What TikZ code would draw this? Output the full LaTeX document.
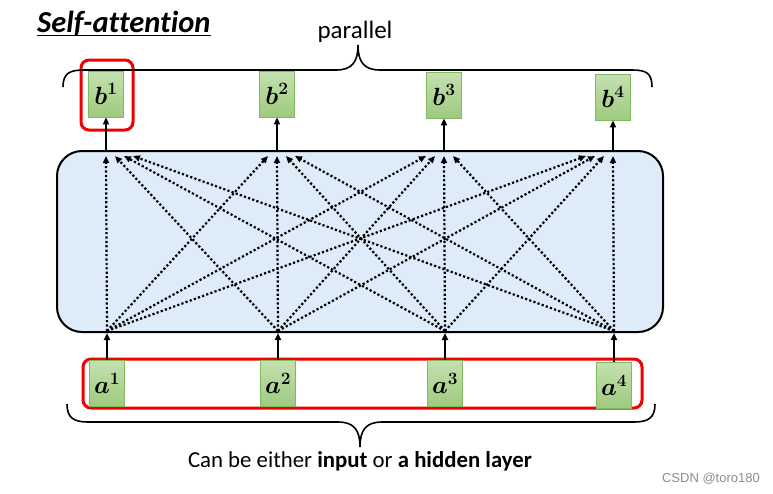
\documentclass[tikz,border=0pt]{standalone}
\usepackage{amsmath,amssymb}
\usepackage{fontspec}
\setmainfont{Carlito}[Ligatures=NoCommon]
\newfontfamily\wmfont{Liberation Sans}
\usepackage{tikz}
\usetikzlibrary{arrows.meta,calc}
\definecolor{vectop}{RGB}{196,224,176}
\definecolor{vecbot}{RGB}{158,202,126}
\definecolor{vecline}{RGB}{128,186,96}
\definecolor{attnfill}{RGB}{222,235,248}
\definecolor{hired}{RGB}{240,0,0}
\definecolor{wmgray}{RGB}{140,140,140}

\begin{document}
\begin{tikzpicture}[x=1pt, y=-1pt,
	vecbox/.style={draw=vecline, line width=0.8pt, top color=vectop, bottom color=vecbot, minimum width=35pt, minimum height=46pt, inner sep=0, font=\fontsize{24}{26}\selectfont},
	attnbox/.style={draw, line width=2pt, fill=attnfill, rounded corners=25pt, minimum width=606pt, minimum height=181pt},
	hilite/.style={draw=hired, line width=3pt, rounded corners=8pt},
	solidarr/.style={line width=2pt, -{Triangle[length=7pt,width=6pt]}},
	dotarr/.style={line width=2.2pt, dash pattern=on 2.2pt off 2.2pt, -{Triangle[length=7pt,width=6pt]}},
	brace/.style={line width=1.6pt}
]
\useasboundingbox (0,0) rectangle (773,493);

%title
\node[anchor=base west, inner sep=0, font=\fontsize{30.5}{33}\selectfont\bfseries\itshape] (title) at (37,32) {Self-attention};
\draw[line width=1.6pt] ([yshift=-3.5pt]title.base west) -- ([yshift=-3.5pt]title.base east);

\node[attnbox] (attn) at (360,241.5) {};

\node[hilite, minimum width=52pt, minimum height=70pt] (sel) at (107,95) {};
\node[hilite, minimum width=559pt, minimum height=49pt] (inrow) at (362.5,383.5) {};

\node[vecbox] (b1) at (106,94) {$\boldsymbol{b}^{\boldsymbol{1}}$};
\node[vecbox] (b2) at (277,94) {$\boldsymbol{b}^{\boldsymbol{2}}$};
\node[vecbox] (b3) at (444,95) {$\boldsymbol{b}^{\boldsymbol{3}}$};
\node[vecbox] (b4) at (613,97) {$\boldsymbol{b}^{\boldsymbol{4}}$};

\node[vecbox] (a1) at (107,383.5) {$\boldsymbol{a}^{\boldsymbol{1}}$};
\node[vecbox] (a2) at (278,383.5) {$\boldsymbol{a}^{\boldsymbol{2}}$};
\node[vecbox] (a3) at (445,383.5) {$\boldsymbol{a}^{\boldsymbol{3}}$};
\node[vecbox] (a4) at (614,385) {$\boldsymbol{a}^{\boldsymbol{4}}$};

\foreach \k in {1,...,4} {
	\coordinate (in\k) at ($(a\k |- attn.south)+(0,-2)$);
	\coordinate (out\k) at ($(b\k |- attn.north)+(0,6)$);
	\draw[solidarr] (a\k.north) -- (a\k |- attn.south);
	\draw[solidarr] (b\k |- attn.north) -- (b\k.south);
}
\foreach \i in {1,...,4}
	\foreach \j in {1,...,4}
		\draw[dotarr] (in\i) -- ($(out\j)+({9*(\i-\j)},0)$);

%braces
\draw[brace] (63,87) .. controls (63,73) and (70,70) .. (84,70) -- (336,70) .. controls (352,70) and (358,62) .. (358,45) .. controls (358,62) and (364,70) .. (380,70) -- (632,70) .. controls (646,70) and (652,73) .. (652,87);
\draw[brace] (67,404) .. controls (67,418) and (74,422) .. (88,422) -- (338,422) .. controls (354,422) and (360,430) .. (360,447) .. controls (360,430) and (366,422) .. (382,422) -- (634,422) .. controls (648,422) and (655,418) .. (655,404);

\node[anchor=base, inner sep=0, font=\fontsize{25}{28}\selectfont] (par) at (355,38) {parallel};
\node[anchor=base, inner sep=0, font=\fontsize{22.8}{26}\selectfont] (note) at (360,467) {Can be either \textbf{input} or \textbf{a hidden layer}};
\node[anchor=base east, inner sep=0, font=\wmfont\fontsize{13}{15}\selectfont, text=wmgray] (wm) at (760,482) {CSDN @toro180};
\end{tikzpicture}
\end{document}
